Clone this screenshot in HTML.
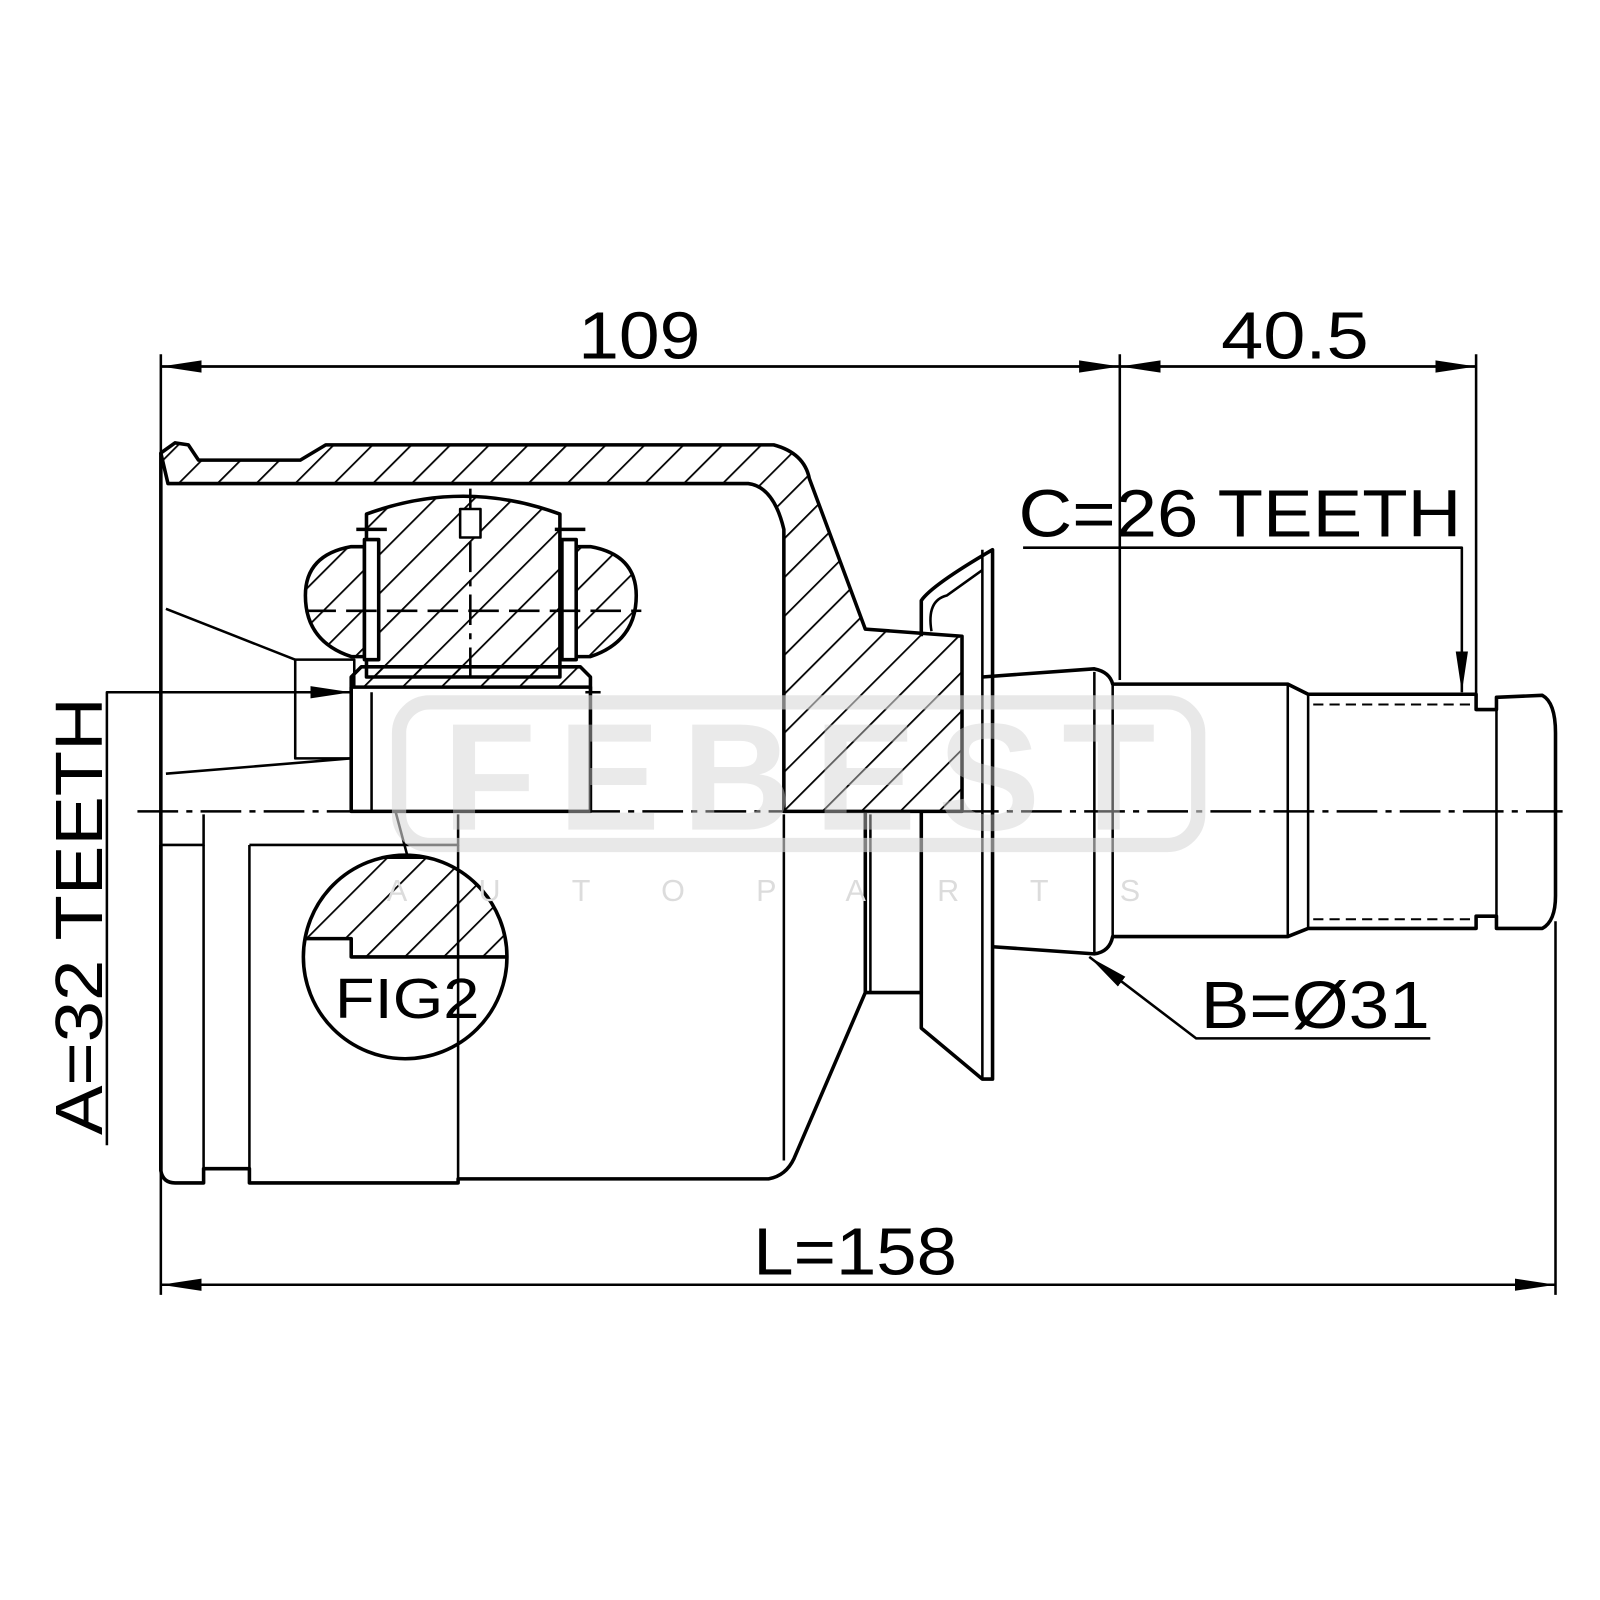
<!DOCTYPE html>
<html><head><meta charset="utf-8"><style>
html,body{margin:0;padding:0;background:#fff;}
svg{display:block;}
text{font-family:"Liberation Sans",sans-serif;fill:#000;}
</style></head><body>
<svg width="1600" height="1600" viewBox="0 0 1600 1600" xmlns="http://www.w3.org/2000/svg">
<defs>
<pattern id="h" patternUnits="userSpaceOnUse" width="27" height="27" patternTransform="rotate(45)">
<line x1="0" y1="0" x2="0" y2="27" stroke="#000" stroke-width="3.5"/>
</pattern>
<marker id="a" markerWidth="40" markerHeight="14" refX="40" refY="7" orient="auto" markerUnits="userSpaceOnUse">
<path d="M0,1 L40,7 L0,13 Z" fill="#000"/>
</marker>
<clipPath id="fc"><circle cx="398" cy="940" r="100"/></clipPath>
</defs>
<g transform="scale(1.018)">

<g stroke="#000" stroke-width="3.5" fill="none" stroke-linejoin="round">
<line x1="158" y1="348" x2="158" y2="1272" stroke-width="2.5"/>
<line x1="1100" y1="348" x2="1100" y2="668" stroke-width="2.5"/>
<line x1="1450" y1="348" x2="1450" y2="682" stroke-width="2.5"/>
<line x1="1528" y1="905" x2="1528" y2="1272" stroke-width="2.5"/>
<line x1="158" y1="360" x2="1100" y2="360" stroke-width="2.5" marker-end="url(#a)"/>
<line x1="1100" y1="360" x2="158" y2="360" stroke-width="2.5" marker-end="url(#a)"/>
<line x1="1100" y1="360" x2="1450" y2="360" stroke-width="2.5" marker-end="url(#a)"/>
<line x1="1450" y1="360" x2="1100" y2="360" stroke-width="2.5" marker-end="url(#a)"/>
<line x1="158" y1="1262" x2="1528" y2="1262" stroke-width="2.5" marker-end="url(#a)"/>
<line x1="1528" y1="1262" x2="158" y2="1262" stroke-width="2.5" marker-end="url(#a)"/>
<polyline points="1005,538 1436,538 1436,680" stroke-width="2.5" marker-end="url(#a)"/>
<polyline points="1405,1020 1175,1020 1070,940" stroke-width="2.5" marker-end="url(#a)"/>
<polyline points="105,1125 105,680 345,680" stroke-width="2.5" marker-end="url(#a)"/>
<line x1="400" y1="840" x2="358" y2="683" stroke-width="2.5" marker-end="url(#a)"/>

<line x1="135" y1="797" x2="1535" y2="797" stroke-width="2.5" stroke-dasharray="40,8,6,8"/>

<path d="M158,445 L172,435 L185,437 L195,452 L295,452 L320,437 L760,437 Q790,445 795,470 L850,618 L945,625 L945,797 L770,797 L770,520 Q760,478 735,475 L165,475 Z" fill="url(#h)"/>
<line x1="158" y1="445" x2="158" y2="1150"/>
<line x1="163" y1="598" x2="290" y2="648" stroke-width="2.5"/>
<line x1="163" y1="760" x2="345" y2="745" stroke-width="2.5"/>
<rect x="290" y="648" width="58" height="97" stroke-width="2.5"/>
<path d="M360,505 Q455,470 550,505 L550,665 L360,665 Z" fill="url(#h)"/>
<path d="M300,585 Q300,545 345,537 L358,537 L358,645 L345,645 Q300,630 300,585 Z" fill="url(#h)"/>
<path d="M625,585 Q625,545 580,537 L565,537 L565,645 L580,645 Q625,630 625,585 Z" fill="url(#h)"/>
<rect x="358" y="530" width="14" height="118" fill="#fff"/>
<rect x="552" y="530" width="14" height="118" fill="#fff"/>
<line x1="350" y1="520" x2="380" y2="520"/><line x1="545" y1="520" x2="575" y2="520"/>
<line x1="300" y1="600" x2="630" y2="600" stroke-dasharray="30,10" stroke-width="2.5"/>
<line x1="462" y1="480" x2="462" y2="670" stroke-dasharray="30,8,6,8" stroke-width="2.5"/>
<rect x="452" y="500" width="20" height="28" fill="#fff" stroke-width="2.5"/>
<path d="M345,665 L355,655 L570,655 L580,665 L580,680 L345,680 Z" fill="url(#h)"/>
<rect x="345" y="675" width="235" height="122" fill="#fff"/>
<line x1="365" y1="680" x2="365" y2="797" stroke-width="2.5"/>
<line x1="575" y1="680" x2="590" y2="680" stroke-width="2.5"/>

<path d="M158,830 L158,1150 Q160,1162 172,1162 L200,1162 L200,1148 L245,1148 L245,1162 L450,1162 L450,1158 L755,1158 Q772,1155 780,1138 L850,975 L850,797"/>
<line x1="200" y1="830" x2="200" y2="1148" stroke-width="2.5"/>
<line x1="245" y1="830" x2="245" y2="1160" stroke-width="2.5"/>
<line x1="450" y1="830" x2="450" y2="1160" stroke-width="2.5"/>
<line x1="770" y1="800" x2="770" y2="1140" stroke-width="2.5"/>
<path d="M158,830 L200,830 L200,800 M245,830 L450,830 L450,800" stroke-width="2.5"/>
<line x1="855" y1="800" x2="855" y2="975" stroke-width="2.5"/>
<path d="M850,975 L905,975 L905,797"/>
<path d="M905,625 L905,590 Q915,575 975,540 L975,1060 L965,1060 L905,1010 L905,975"/>
<path d="M915,620 Q910,590 930,585 L965,560" stroke-width="2.5"/>
<line x1="965" y1="540" x2="965" y2="1060" stroke-width="2.5"/>
<path d="M965,665 L1075,657 Q1090,660 1093,672 L1265,672 L1285,682 L1450,682 L1450,697 L1470,697 L1470,685 L1515,683 Q1528,690 1528,720 L1528,880 Q1528,905 1515,912 L1470,912 L1470,900 L1450,900 L1450,912 L1285,912 L1265,920 L1093,920 Q1090,935 1075,937 L975,930"/>
<line x1="1075" y1="660" x2="1075" y2="937" stroke-width="2.5"/>
<line x1="1093" y1="672" x2="1093" y2="920" stroke-width="2.5"/>
<line x1="1265" y1="672" x2="1265" y2="920" stroke-width="2.5"/>
<line x1="1285" y1="682" x2="1285" y2="912" stroke-width="2.5"/>
<line x1="1290" y1="692" x2="1445" y2="692" stroke-width="2" stroke-dasharray="10,6"/>
<line x1="1290" y1="903" x2="1445" y2="903" stroke-width="2" stroke-dasharray="10,6"/>
<line x1="1470" y1="697" x2="1470" y2="900" stroke-width="2.5"/>

<circle cx="398" cy="940" r="100"/>
<g clip-path="url(#fc)">
<path d="M290,842 L510,842 L510,940 L345,940 L345,922 L300,922 Z" fill="url(#h)"/>
</g>
</g>

<!-- watermark on top -->
<rect x="392" y="690" width="785" height="140" rx="30" fill="none" stroke="#d8d8d8" stroke-opacity="0.6" stroke-width="14"/>
<text x="785" y="815" font-size="150" font-weight="bold" text-anchor="middle" textLength="700" style="fill:#d0d0d0;fill-opacity:0.45">FEBEST</text>
<text x="785" y="885" font-size="30" text-anchor="middle" letter-spacing="70" style="fill:#dcdcdc">AUTOPARTS</text>

<text x="628" y="352" font-size="66" text-anchor="middle" textLength="120" lengthAdjust="spacingAndGlyphs">109</text>
<text x="1272" y="352" font-size="66" text-anchor="middle" textLength="145" lengthAdjust="spacingAndGlyphs">40.5</text>
<text x="1218" y="527" font-size="66" text-anchor="middle" textLength="435" lengthAdjust="spacingAndGlyphs">C=26 TEETH</text>
<text x="1292" y="1010" font-size="66" text-anchor="middle" textLength="225" lengthAdjust="spacingAndGlyphs">B=Ø31</text>
<text x="840" y="1252" font-size="66" text-anchor="middle" textLength="200" lengthAdjust="spacingAndGlyphs">L=158</text>
<text x="400" y="1000" font-size="56" text-anchor="middle" textLength="142" lengthAdjust="spacingAndGlyphs">FIG2</text>
<text transform="translate(100,900) rotate(-90)" font-size="66" text-anchor="middle" textLength="430" lengthAdjust="spacingAndGlyphs">A=32 TEETH</text>
</g>
</svg>
</body></html>
